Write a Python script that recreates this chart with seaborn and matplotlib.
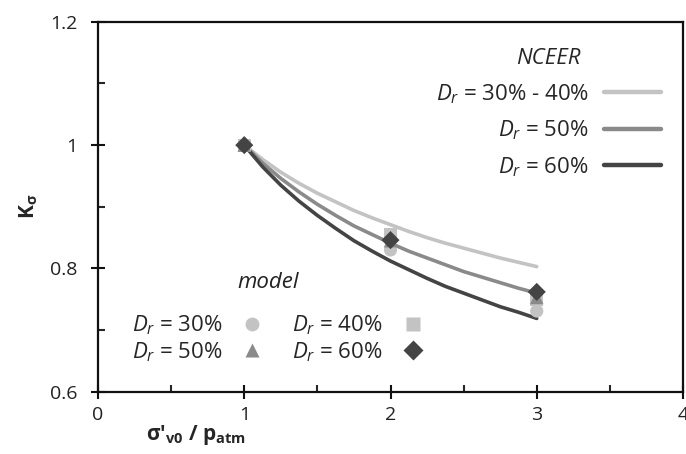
import numpy as np
import pandas as pd
import matplotlib
matplotlib.use("Agg")
import matplotlib.pyplot as plt
from matplotlib.lines import Line2D
from matplotlib.ticker import MultipleLocator
import seaborn as sns

# NCEER curves
nceer_x = [1.0, 1.125, 1.25, 1.375, 1.5, 1.625, 1.75, 1.875, 2.0,
           2.125, 2.25, 2.375, 2.5, 2.625, 2.75, 2.875, 3.0]
nceer_30_40 = [1.000, 0.977, 0.956, 0.938, 0.922, 0.908, 0.894, 0.882, 0.871,
               0.860, 0.850, 0.841, 0.833, 0.825, 0.817, 0.810, 0.803]
nceer_50 = [1.000, 0.971, 0.946, 0.924, 0.904, 0.886, 0.869, 0.855, 0.841,
            0.828, 0.817, 0.806, 0.795, 0.786, 0.777, 0.768, 0.760]
nceer_60 = [1.000, 0.965, 0.935, 0.909, 0.886, 0.865, 0.845, 0.828, 0.812,
            0.798, 0.784, 0.771, 0.760, 0.749, 0.738, 0.729, 0.719]
nceer_labels = [r"$D_r$ = 30% - 40%", r"$D_r$ = 50%", r"$D_r$ = 60%"]

# model points
model_x = [1, 2, 3]
model_30 = [1.000, 0.830, 0.731]
model_40 = [1.000, 0.856, 0.749]
model_50 = [1.000, 0.845, 0.753]
model_60 = [1.000, 0.846, 0.762]
model_labels = [r"$D_r$ = 30%", r"$D_r$ = 40%", r"$D_r$ = 50%", r"$D_r$ = 60%"]

sns.set_style("white")
plt.rcParams['font.family'] = ['Open Sans', 'DejaVu Sans']
plt.rcParams['mathtext.fontset'] = 'custom'
plt.rcParams['mathtext.rm'] = 'Open Sans'
plt.rcParams['mathtext.it'] = 'Open Sans:italic'
plt.rcParams['mathtext.bf'] = 'Open Sans:bold'

fig = plt.figure(figsize=(6.86, 4.54), dpi=100)
ax = fig.add_axes([0.1429, 0.137, 0.8527, 0.815])

line_colors = ['#c3c3c3', '#8a8a8a', '#444444']
for ys, c in zip([nceer_30_40, nceer_50, nceer_60], line_colors):
    sns.lineplot(x=nceer_x, y=ys, color=c, linewidth=2.6, ax=ax, zorder=2)

marker_styles = [('o', '#c3c3c3', 90), ('s', '#c3c3c3', 85), ('^', '#8a8a8a', 95), ('D', '#444444', 85)]
for ys, (m, c, s) in zip([model_30, model_40, model_50, model_60], marker_styles):
    sns.scatterplot(x=model_x, y=ys, marker=m, color=c, s=s, edgecolor='none', ax=ax, zorder=3)

ax.set_xlim(0, 4)
ax.set_ylim(0.6, 1.2)
ax.xaxis.set_minor_locator(MultipleLocator(0.5))
ax.yaxis.set_minor_locator(MultipleLocator(0.1))
ax.set_xticks([0, 1, 2, 3, 4])
ax.set_xticklabels(['0', '1', '2', '3', '4'])
ax.set_yticks([0.6, 0.8, 1.0, 1.2])
ax.set_yticklabels(['0.6', '0.8', '1', '1.2'])

ax.tick_params(which='major', direction='inout', length=10, width=1.5, labelsize=14,
               colors='#111111', labelcolor='#222222',
               bottom=True, left=True, top=False, right=False)
ax.tick_params(which='minor', direction='in', length=5, width=1.5,
               bottom=True, left=True, top=False, right=False)
ax.tick_params(axis='x', pad=5)
ax.tick_params(axis='y', pad=10)
for sp in ax.spines.values():
    sp.set_visible(True)
    sp.set_color('#111111')
    sp.set_linewidth(1.6)

ax.set_xlabel(r"σ'$_{\mathbf{v0}}$ / p$_{\mathbf{atm}}$", fontsize=15, fontweight='bold')
ax.xaxis.set_label_coords(0.168, -0.085)
ax.set_ylabel(r"K$_{\mathbf{σ}}$", fontsize=15, fontweight='bold')
ax.yaxis.set_label_coords(-0.1, 0.5)

nceer_handles = [Line2D([], [], color=c, linewidth=3.2) for c in line_colors]
leg1 = ax.legend(nceer_handles, nceer_labels, title='NCEER', markerfirst=False, frameon=False,
                 loc='upper right', bbox_to_anchor=(0.985, 0.965), fontsize=16,
                 handlelength=2.55, handletextpad=0.7, labelspacing=0.58,
                 borderaxespad=0.2,
                 title_fontproperties={'style': 'italic', 'size': 16})
ax.add_artist(leg1)

model_handles = [Line2D([], [], linestyle='none', marker=m, color=c, markersize=np.sqrt(s) * 1.05,
                        markeredgecolor='none') for (m, c, s) in marker_styles]
# two columns: 30 / 50 on the left, 40 / 60 on the right
order = [0, 2, 1, 3]
leg2 = ax.legend([model_handles[i] for i in order], [model_labels[i] for i in order],
                 ncol=2, markerfirst=False, frameon=False,
                 loc='lower left', bbox_to_anchor=(0.035, 0.04), fontsize=16,
                 handlelength=1.1, handletextpad=0.8, columnspacing=1.25, labelspacing=0.12,
                 borderaxespad=0.2)
ax.text(0.29, 0.296, 'model', transform=ax.transAxes, fontsize=16, fontstyle='italic',
        ha='center', va='center', color='#222222')

fig.savefig('out.png', dpi=100)
